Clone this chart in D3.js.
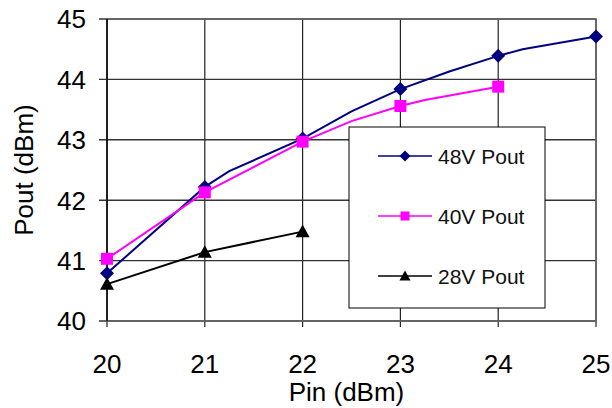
<!DOCTYPE html>
<html>
<head>
<meta charset="utf-8">
<script src="https://cdn.jsdelivr.net/npm/d3@7"></script>
<style>
  body { margin: 0; background: #fff; }
  svg { font-family: Arial, "Liberation Sans", sans-serif; }
</style>
</head>
<body>
<div class="chart"></div>
<script>
// data (mark: 0 = line vertex only, no marker)
const pin48 = [20, 21, 21.25, 22, 22.5, 23, 23.5, 24, 24.25, 25];
const pout48 = [40.79, 42.22, 42.48, 43.02, 43.47, 43.84, 44.13, 44.39, 44.5, 44.71];
const mark48 = [1, 1, 0, 1, 0, 1, 0, 1, 0, 1];

const pin40 = [20, 21, 22, 22.5, 23, 23.25, 24];
const pout40 = [41.03, 42.13, 42.97, 43.31, 43.56, 43.66, 43.88];
const mark40 = [1, 1, 1, 0, 1, 0, 1];

const pin28 = [20, 21, 22];
const pout28 = [40.61, 41.14, 41.48];
const mark28 = [1, 1, 1];

const xTicks = [20, 21, 22, 23, 24, 25];
const yTicks = [40, 41, 42, 43, 44, 45];
const seriesNames = ['48V Pout', '40V Pout', '28V Pout'];

const outerW = 612, outerH = 408;
const margin = { left: 107, right: 16, top: 19, bottom: 87 };
const w = outerW - margin.left - margin.right,
  h = outerH - margin.top - margin.bottom;

const x = d3.scaleLinear().domain([20, 25]).range([0, w]);
const y = d3.scaleLinear().domain([40, 45]).range([h, 0]);

// square diamond (Excel style), r = half diagonal
const diamond = r => `M0,${-r}L${r},0L0,${r}L${-r},0Z`;
const square = r => `M${-r},${-r}H${r}V${r}H${-r}Z`;
const triangle = r => `M0,${-r}L${r},${r * 0.8}L${-r},${r * 0.8}Z`;

const zip = (xs, ys, ms) => xs.map((d, i) => ({ x: d, y: ys[i], m: ms[i] }));
const series = [
  { name: seriesNames[0], color: '#000080', shape: diamond, r: 7, lr: 5.5, pts: zip(pin48, pout48, mark48) },
  { name: seriesNames[1], color: '#ff00ff', shape: square, r: 6, lr: 4.5, pts: zip(pin40, pout40, mark40) },
  { name: seriesNames[2], color: '#000000', shape: triangle, r: 7, lr: 5.5, pts: zip(pin28, pout28, mark28) }
];

const svg = d3.select('.chart').append('svg')
  .attr('width', outerW)
  .attr('height', outerH);

const g = svg.append('g')
  .attr('transform', `translate(${margin.left}, ${margin.top})`);

// grid
g.append('g')
  .selectAll('line')
  .data(xTicks)
  .enter()
  .append('line')
  .attr('x1', d => x(d)).attr('x2', d => x(d))
  .attr('y1', 0).attr('y2', h + 6)
  .attr('stroke', '#222').attr('stroke-width', 1.2);

g.append('g')
  .selectAll('line')
  .data(yTicks)
  .enter()
  .append('line')
  .attr('x1', -8).attr('x2', w)
  .attr('y1', d => y(d)).attr('y2', d => y(d))
  .attr('stroke', '#333').attr('stroke-width', 1.4);

// frame
g.append('rect')
  .attr('width', w).attr('height', h)
  .attr('fill', 'none')
  .attr('stroke', '#666').attr('stroke-width', 1.6);
g.append('line')
  .attr('x1', 0).attr('x2', 0).attr('y1', 0).attr('y2', h)
  .attr('stroke', '#000').attr('stroke-width', 1.4);

// tick labels
g.append('g')
  .style('font-size', '26px')
  .selectAll('text')
  .data(yTicks)
  .enter()
  .append('text')
  .attr('x', -21)
  .attr('y', d => y(d))
  .attr('dy', '0.36em')
  .attr('text-anchor', 'end')
  .text(d => d);

g.append('g')
  .style('font-size', '26px')
  .selectAll('text')
  .data(xTicks)
  .enter()
  .append('text')
  .attr('x', d => x(d))
  .attr('y', h + 52)
  .attr('text-anchor', 'middle')
  .text(d => d);

// axis titles
svg.append('text')
  .attr('x', margin.left + w / 2 - 5)
  .attr('y', 401)
  .attr('text-anchor', 'middle')
  .style('font-size', '26px')
  .text('Pin (dBm)');

svg.append('text')
  .attr('transform', `translate(33, ${margin.top + h / 2}) rotate(-90)`)
  .attr('text-anchor', 'middle')
  .style('font-size', '26px')
  .text('Pout (dBm)');

// legend (drawn before lines so data sits on top)
const lg = svg.append('g').attr('transform', 'translate(349, 127)');
lg.append('rect')
  .attr('width', 196).attr('height', 181)
  .attr('fill', '#fff')
  .attr('stroke', '#000').attr('stroke-width', 1);

const li = lg.selectAll('g.item')
  .data(series)
  .enter()
  .append('g')
  .attr('class', 'item')
  .attr('transform', (d, i) => `translate(0, ${29 + i * 60})`);
li.append('line')
  .attr('x1', 29).attr('x2', 83)
  .attr('stroke', d => d.color).attr('stroke-width', 1.6);
li.append('path')
  .attr('transform', 'translate(56, 0)')
  .attr('d', d => d.shape(d.lr))
  .attr('fill', d => d.color);
li.append('text')
  .attr('x', 89)
  .attr('dy', '0.36em')
  .style('font-size', '21px')
  .style('fill', '#111')
  .text(d => d.name);

// series
const line = d3.line().x(d => x(d.x)).y(d => y(d.y));

const sg = g.selectAll('g.series')
  .data(series)
  .enter()
  .append('g')
  .attr('class', 'series');

sg.append('path')
  .attr('d', d => line(d.pts))
  .attr('fill', 'none')
  .attr('stroke', d => d.color)
  .attr('stroke-width', 2);

sg.each(function(s) {
  d3.select(this).selectAll('path.mk')
    .data(s.pts.filter(p => p.m))
    .enter()
    .append('path')
    .attr('class', 'mk')
    .attr('transform', p => `translate(${x(p.x)}, ${y(p.y)})`)
    .attr('d', s.shape(s.r))
    .attr('fill', s.color);
});
</script>
</body>
</html>
